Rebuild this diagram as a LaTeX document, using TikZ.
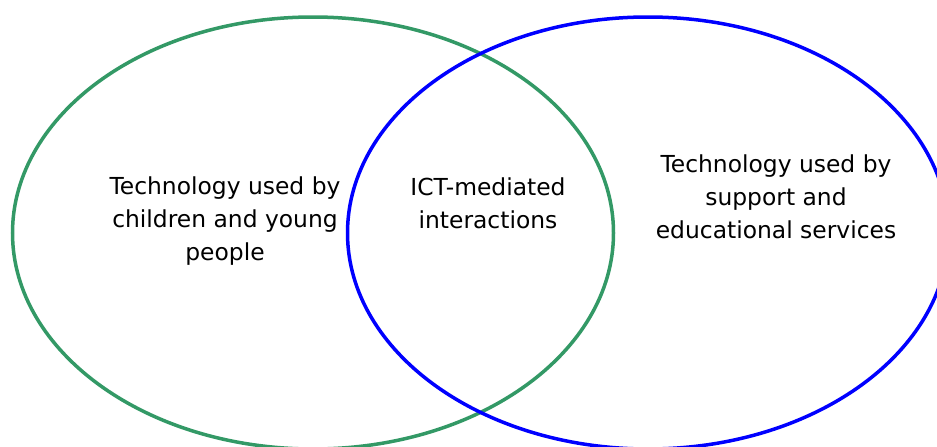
\documentclass[tikz,border=0pt]{standalone}
\usepackage{fontspec}
\setmainfont{DejaVu Sans}
\usetikzlibrary{shapes.geometric}

\definecolor{vgreen}{RGB}{51,153,102}

\begin{document}
\begin{tikzpicture}[x=1pt,y=-1pt]
  \tikzset{oval/.style = {shape=ellipse,draw,line width=3.5pt,minimum width=601pt,minimum height=432pt,inner sep=0pt}}
  \tikzset{txt/.style = {align=center,inner sep=0pt,font=\fontsize{23.4}{33}\selectfont}}

  \useasboundingbox (0,0) rectangle (937,447);

  \node[oval,draw=vgreen] (kids) at (313,233) {};
  \node[oval,draw=blue]   (serv) at (648,233) {};

  \node[txt] (kidtxt) at (225,221) {Technology used by\\children and young\\people};
  \node[txt] (icttxt) at (488,203) {ICT-mediated\\interactions};
  \node[txt] (sertxt) at (776,197) {Technology used by\\support and\\educational services};

\end{tikzpicture}
\end{document}
